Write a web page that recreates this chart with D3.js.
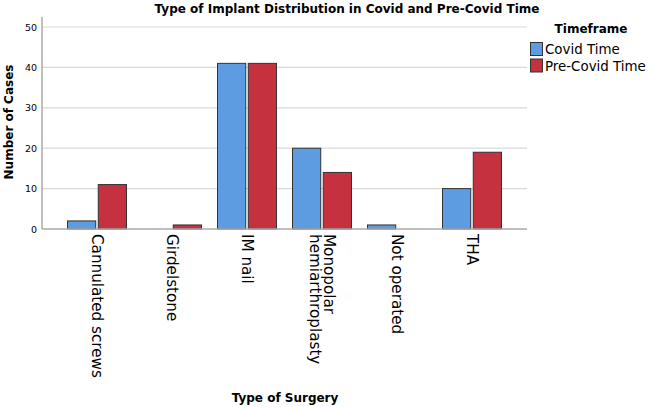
<!DOCTYPE html>
<html><head><meta charset="utf-8">
<script src="https://cdn.jsdelivr.net/npm/d3@7"></script>
<style>body{margin:0;background:#fff}svg{display:block}text{font-family:"DejaVu Sans",sans-serif;fill:#000}</style>
</head><body>
<svg id="c" width="649" height="407"></svg>
<script>
const categories = ["Cannulated screws","Girdelstone","IM nail","Monopolar hemiarthroplasty","Not operated","THA"];
const categoryLines = [["Cannulated screws"],["Girdelstone"],["IM nail"],["Monopolar","hemiarthroplasty"],["Not operated"],["THA"]];
const seriesNames = ["Covid Time","Pre-Covid Time"];
const covidTime = [2,0,41,20,1,10];
const preCovidTime = [11,1,41,14,0,19];
const yTicks = [0,10,20,30,40,50];
const colors = ["#5e9ce2","#c5313f"];

const svg = d3.select("#c");
const plotL = 42, plotR = 527, plotT = 17, plotB = 229;
const y = d3.scaleLinear().domain([0,50]).range([plotB, 27]);
const x = d3.scaleBand().domain(categories).range([59.5, 509.5]);
const inner = d3.scaleBand().domain(seriesNames).range([0, 60]).paddingInner(0.05);
const x0off = (x.bandwidth()-60)/2;

// gridlines
svg.append("g").selectAll("line").data(yTicks.filter(d=>d>0)).join("line")
  .attr("x1",plotL).attr("x2",plotR).attr("y1",d=>y(d)).attr("y2",d=>y(d))
  .attr("stroke","#d9d9d9").attr("stroke-width",1.2);

// y tick labels
svg.append("g").selectAll("text").data(yTicks).join("text")
  .attr("x",37).attr("y",d=>y(d)+3.5).attr("text-anchor","end")
  .style("font-size","9.5px").text(d=>d);

// bars
const data = [covidTime, preCovidTime];
categories.forEach((c,i)=>{
  seriesNames.forEach((s,j)=>{
    const v = data[j][i];
    if (v<=0) return;
    svg.append("rect")
      .attr("x", x(c)+x0off+inner(s)+0.5)
      .attr("y", y(v))
      .attr("width", inner.bandwidth()-1)
      .attr("height", y(0)-y(v))
      .attr("fill", colors[j]).attr("stroke","#333").attr("stroke-width",1);
  });
});

// axes lines
svg.append("line").attr("x1",plotL).attr("x2",plotL).attr("y1",plotT).attr("y2",plotB)
  .attr("stroke","#aaa").attr("stroke-width",1.5);
svg.append("line").attr("x1",plotL).attr("x2",plotR).attr("y1",plotB).attr("y2",plotB)
  .attr("stroke","#aaa").attr("stroke-width",1.5);

// x labels (rotated 90deg)
categories.forEach((c,i)=>{
  const lines = categoryLines[i];
  const cx = x(c)+x.bandwidth()/2;
  const lh = 14;
  const t = svg.append("text")
    .attr("transform",`translate(${cx},234) rotate(90)`)
    .style("font-size","15.2px");
  lines.forEach((l,k)=>{
    t.append("tspan").attr("x",0)
     .attr("y", -((lines.length-1)*lh)/2 + k*lh + 5)
     .text(l);
  });
});

// titles
svg.append("text").attr("x",347).attr("y",13).attr("text-anchor","middle")
  .style("font-size","12px").style("font-weight","bold")
  .text("Type of Implant Distribution in Covid and Pre-Covid Time");
svg.append("text").attr("transform","translate(13,122) rotate(-90)").attr("text-anchor","middle")
  .style("font-size","12px").style("font-weight","bold").text("Number of Cases");
svg.append("text").attr("x",285).attr("y",402).attr("text-anchor","middle")
  .style("font-size","12px").style("font-weight","bold").text("Type of Surgery");

// legend
svg.append("text").attr("x",591).attr("y",33).attr("text-anchor","middle")
  .style("font-size","12px").style("font-weight","bold").text("Timeframe");
seriesNames.forEach((s,j)=>{
  svg.append("rect").attr("x",530.5).attr("y",42.5+j*16.5).attr("width",12).attr("height",13)
    .attr("fill",colors[j]).attr("stroke","#333").attr("stroke-width",1);
  svg.append("text").attr("x",545).attr("y",54+j*16.5).style("font-size","13.4px").text(s);
});
</script>
</body></html>
